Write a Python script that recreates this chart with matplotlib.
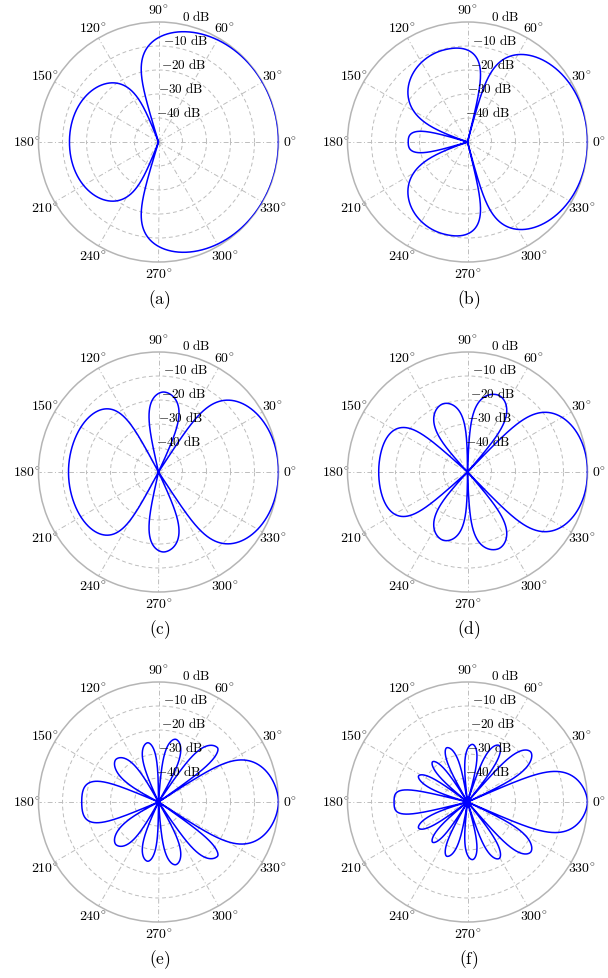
import numpy as np
import matplotlib
matplotlib.use('Agg')
import matplotlib.pyplot as plt

plt.rcParams['mathtext.fontset'] = 'cm'
plt.rcParams['font.family'] = ['DejaVu Serif']

# ---------------- data ----------------
# each lobe: start null, peak angle, end null (deg), peak level (dB), shape exponents
a_start = [0, 111];          a_peak = [0, 180];          a_end = [107, 180]
a_db = [0, -12.9];           a_kin = [1, 1.4];           a_kout = [2.5, 1]

b_start = [0, 76, 163];      b_peak = [0, 105, 180];     b_end = [75, 161, 180]
b_db = [0, -10.4, -25.3];    b_kin = [1, 3.0, 1.6];      b_kout = [1.3, 1.9, 1]

c_start = [0, 65, 118];      c_peak = [0, 86, 180];      c_end = [57, 103, 180]
c_db = [0, -16.6, -12.5];    c_kin = [1, 1.8, 3.0];      c_kout = [1.2, 1.8, 1]

d_start = [0, 49, 90, 138];  d_peak = [0, 68, 110, 180]; d_end = [46, 88, 133, 180]
d_db = [0, -15.5, -19.8, -13.0]; d_kin = [1, 1.8, 1.8, 2.5]; d_kout = [1.1, 1.8, 1.8, 1]

e_start = [0, 35, 60, 90, 119, 157]
e_peak = [0, 42.6, 74.5, 100.5, 135, 180]
e_end = [33, 56, 86, 115, 153, 180]
e_db = [0, -16.6, -22.9, -24.9, -24.9, -18.0]
e_kin = [1, 1.8, 1.8, 1.8, 1.8, 2.0]
e_kout = [0.8, 1.8, 1.8, 1.8, 1.8, 1]

f_start = [0, 25, 51, 74, 99, 122, 143, 166]
f_peak = [0, 38.3, 60.8, 85, 111, 131, 152, 180]
f_end = [23.5, 49, 72, 97, 120, 141, 164, 180]
f_db = [0, -16.4, -23.0, -25.9, -25.8, -27.8, -26.9, -19.4]
f_kin = [1, 1.8, 1.8, 1.8, 1.8, 1.8, 1.8, 2.0]
f_kout = [0.8, 1.8, 1.8, 1.8, 1.8, 1.8, 1.8, 1]

panels = [
    ('(a)', a_start, a_peak, a_end, a_db, a_kin, a_kout),
    ('(b)', b_start, b_peak, b_end, b_db, b_kin, b_kout),
    ('(c)', c_start, c_peak, c_end, c_db, c_kin, c_kout),
    ('(d)', d_start, d_peak, d_end, d_db, d_kin, d_kout),
    ('(e)', e_start, e_peak, e_end, e_db, e_kin, e_kout),
    ('(f)', f_start, f_peak, f_end, f_db, f_kin, f_kout),
]

ring_db = [-40, -30, -20, -10]
ring_labels = [r'$0\ \mathrm{dB}$', r'$-10\ \mathrm{dB}$', r'$-20\ \mathrm{dB}$',
               r'$-30\ \mathrm{dB}$', r'$-40\ \mathrm{dB}$']
ring_label_db = [0, -10, -20, -30, -40]
angle_ticks = list(range(0, 360, 30))


def pattern(th, start, peak, end, db, kin, kout):
    c = np.cos(np.radians(th))
    amp = np.zeros_like(th)
    for s, p, e, L, ki, ko in zip(start, peak, end, db, kin, kout):
        A = 10 ** (L / 20.0)
        cs, cp, ce = np.cos(np.radians([s, p, e]))
        if p > s:
            m = (th >= s) & (th <= p)
            t = np.clip((cs - c[m]) / (cs - cp), 0, 1)
            amp[m] = A * (1 - (1 - t) ** ki)
        if e > p:
            m = (th >= p) & (th <= e)
            t = np.clip((c[m] - ce) / (cp - ce), 0, 1)
            amp[m] = A * (1 - (1 - t) ** ko)
    out = 20 * np.log10(np.maximum(amp, 1e-9))
    return np.maximum(out, -50)


W, H = 608, 979
fig = plt.figure(figsize=(W / 100, H / 100), dpi=100)
centers = [(158.5, 143), (467.5, 143), (158.5, 473), (467.5, 473), (158.5, 803), (467.5, 803)]
R = 120
grid_col = '#bdbdbd'
half = np.linspace(0, 180, 3601)

for (lab, st, pk, en, db, ki, ko), (cx, cy) in zip(panels, centers):
    ax = fig.add_axes([(cx - R) / W, 1 - (cy + R) / H, 2 * R / W, 2 * R / H], projection='polar')
    ax.set_ylim(-50, 0)
    ax.set_yticks(ring_db)
    ax.set_yticklabels([])
    ax.set_xticks(np.radians(angle_ticks))
    ax.set_xticklabels([r'$%d^{\circ}$' % a for a in angle_ticks], fontsize=10)
    ax.tick_params(axis='x', length=0, pad=1.5)
    ax.tick_params(axis='y', length=0)
    ax.xaxis.grid(True, color=grid_col, linestyle=(0, (5, 2.5, 1, 2.5)), linewidth=0.7)
    ax.yaxis.grid(True, color=grid_col, linestyle=(0, (4, 3)), linewidth=0.7)
    ax.spines['polar'].set_color('#b5b5b5')
    ax.spines['polar'].set_linewidth(1.1)
    ax.set_facecolor('white')

    vals = pattern(half, st, pk, en, db, ki, ko)
    th_full = np.concatenate([half, 360 - half[::-1]])
    v_full = np.concatenate([vals, vals[::-1]])
    ax.plot(np.radians(th_full), v_full, color='#0000ff', linewidth=1.1, zorder=5)

    for txt, rd in zip(ring_labels, ring_label_db):
        rho = (rd + 50) / 50.0 * R
        x = 0.5 + (0.1 * rho + 40) / (2 * R)
        y = 0.5 + (rho + 6.5) / (2 * R)
        ax.text(x, y, txt, transform=ax.transAxes, ha='right', va='center',
                fontsize=9.5, zorder=6)

    fig.text((cx + 1) / W, 1 - (cy + 157) / H, r'$\mathrm{%s}$' % lab, ha='center', va='center',
             fontsize=12.5)

fig.savefig('out.png', dpi=100)
